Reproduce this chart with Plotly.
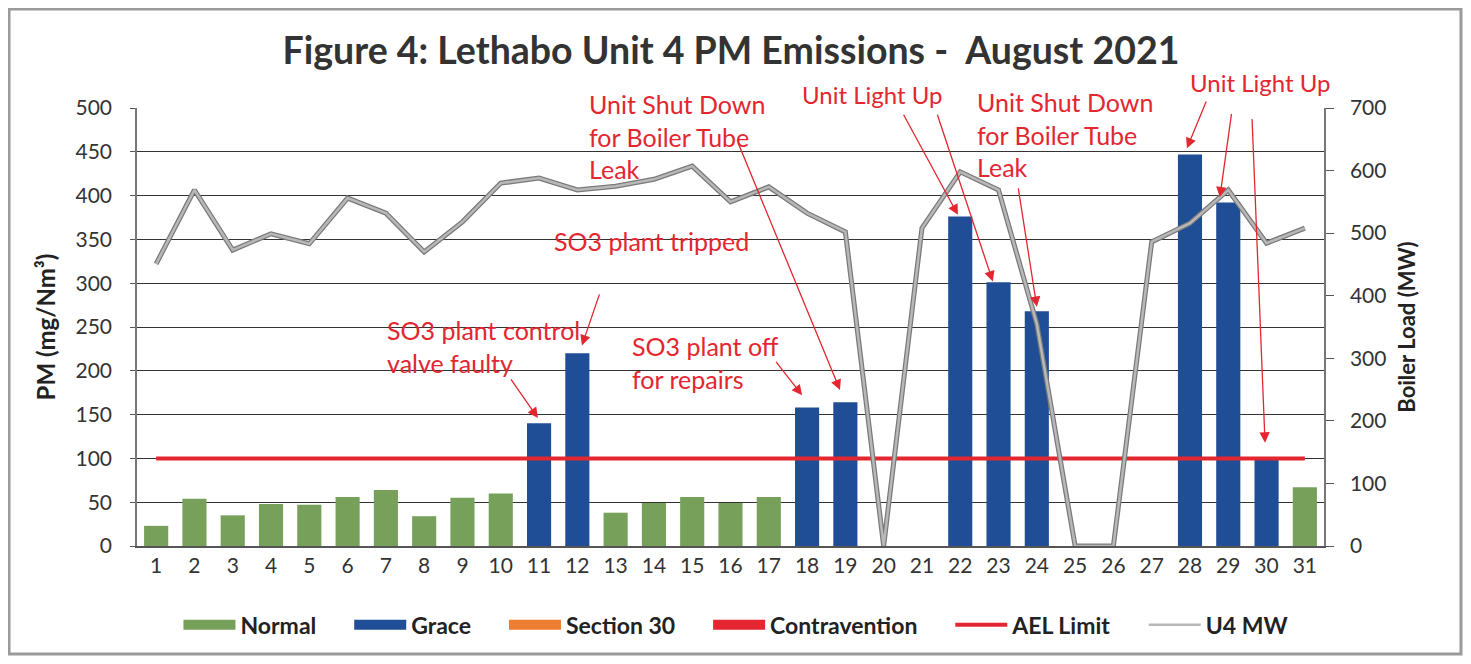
import plotly.graph_objects as go

days = list(range(1, 32))
pm_values = [23, 54, 35, 48, 47, 56, 64, 34, 55, 60, 140, 220, 38, 49, 56, 49, 56,
             158, 164, 0, 0, 376, 301, 268, 0, 0, 0, 447, 392, 100, 67]
status = ["N"] * 10 + ["G", "G"] + ["N"] * 5 + ["G", "G", "-", "-", "G", "G", "G", "-", "-", "-", "G", "G", "G", "N"]
mw_values = [451, 569, 473, 499, 483, 556, 532, 470, 518, 580, 588, 569, 575, 586, 607, 550,
             574, 532, 502, 0, 508, 598, 569, 355, 0, 0, 486, 516, 569, 484, 508]
ael_limit = [100] * 31

normal = [v if s == "N" else None for v, s in zip(pm_values, status)]
grace = [v if s == "G" else None for v, s in zip(pm_values, status)]

title_text = "Figure 4: Lethabo Unit 4 PM Emissions -  August 2021"

# annotation texts in data coords: (text, x, y)
notes = [
    ("SO3 plant control<br>valve faulty", 6.98, 228),
    ("SO3 plant tripped", 11.34, 348),
    ("SO3 plant off<br>for repairs", 13.38, 210),
    ("Unit Shut Down<br>for Boiler Tube<br>Leak", 12.25, 468),
    ("Unit Shut Down<br>for Boiler Tube<br>Leak", 22.38, 470),
]
# annotation texts above the plot, paper coords
notes_top = [
    ("Unit Light Up", 0.5586, 1.0297),
    ("Unit Light Up", 0.8854, 1.0571),
]
# arrows: (tail x, tail y, head x, head y)
arrows = [
    (10.24, 192, 10.97, 146),
    (12.59, 289, 12.12, 229),
    (17.16, 212, 17.87, 172),
    (16.2, 460, 18.86, 178),
    (20.5, 494, 21.94, 378),
    (21.39, 494, 22.85, 302),
    (23.51, 410, 24.0, 273),
    (28.44, 509, 27.92, 454),
    (29.09, 495, 28.78, 398),
    (29.62, 489, 29.96, 118),
]

FONT = "Lato"
GREEN = "#77A05A"
BLUE = "#1F4E96"
ORANGE = "#ED7D31"
RED = "#E3262F"
ANN_SIZE = 25
PAD = "\u00a0" * 5  # spacing between legend entries

fig = go.Figure()
fig.add_trace(go.Bar(x=days, y=normal, name="Normal", showlegend=False,
                     marker=dict(color=GREEN, line=dict(width=0))))
fig.add_trace(go.Bar(x=days, y=grace, name="Grace", showlegend=False,
                     marker=dict(color=BLUE, line=dict(width=0))))
# legend entries drawn as wide swatches
for nm, col in [("Normal", GREEN), ("Grace", BLUE), ("Section 30", ORANGE), ("Contravention", RED)]:
    fig.add_trace(go.Scatter(x=[None], y=[None], name=nm + PAD, mode="lines",
                             line=dict(color=col, width=14)))
fig.add_trace(go.Scatter(x=days, y=ael_limit, name="AEL Limit" + PAD, mode="lines",
                         line=dict(color=RED, width=4)))
fig.add_trace(go.Scatter(x=days, y=mw_values, name="U4 MW", mode="lines", yaxis="y2",
                         line=dict(color="#7A7A7A", width=5), showlegend=False, hoverinfo="skip"))
fig.add_trace(go.Scatter(x=days, y=mw_values, name="U4 MW", mode="lines", yaxis="y2",
                         line=dict(color="#B8B8B8", width=2.5)))

for text, x, y in notes:
    fig.add_annotation(x=x, y=y, xref="x", yref="y", text=text, showarrow=False,
                       xanchor="left", yanchor="middle", align="left",
                       font=dict(family=FONT, size=ANN_SIZE, color=RED))
for text, x, y in notes_top:
    fig.add_annotation(x=x, y=y, xref="paper", yref="paper", text=text, showarrow=False,
                       xanchor="left", yanchor="middle", align="left",
                       font=dict(family=FONT, size=24, color=RED))
for tx, ty, hx, hy in arrows:
    fig.add_annotation(x=hx, y=hy, ax=tx, ay=ty, xref="x", yref="y", axref="x", ayref="y",
                       text="", showarrow=True, arrowhead=2, arrowsize=1.6, arrowwidth=1.3,
                       arrowcolor=RED)

# outer frame
fig.add_shape(type="rect", xref="paper", yref="paper", x0=-0.1078, x1=1.1154, y0=-0.2466, y1=1.226,
              line=dict(color="#9A9A9A", width=3), layer="below")

W, H = 1455, 648
fig.update_layout(
    width=W, height=H,
    margin=dict(l=129, r=139, t=100, b=110, autoexpand=False),
    paper_bgcolor="white", plot_bgcolor="white",
    barmode="relative", bargap=0.37,
    title=dict(text="<b>" + title_text + "</b>", x=723 / W, xanchor="center",
               y=1 - 43 / H, yanchor="middle",
               font=dict(family=FONT, size=37.5, color="#333333")),
    font=dict(family=FONT, color="#333333"),
    xaxis=dict(range=[0.5, 31.5], tickmode="array", tickvals=days, ticktext=[str(d) for d in days],
               showgrid=False, showline=True, linecolor="#555555", linewidth=1.5,
               tickfont=dict(family=FONT, size=21, color="#333333"), ticks="", zeroline=False),
    yaxis=dict(range=[0, 500], tickmode="linear", dtick=50, showgrid=True, gridcolor="#333333",
               gridwidth=1.4, showline=True, linecolor="#777777", linewidth=1.5,
               ticks="outside", ticklen=5, tickcolor="#555555", ticklabelstandoff=14,
               tickfont=dict(family=FONT, size=21, color="#333333"), zeroline=False,
               title=dict(text="<b>PM (mg/Nm³)</b>", font=dict(family=FONT, size=24, color="#222222"),
                          standoff=13)),
    yaxis2=dict(range=[0, 700], tickmode="linear", dtick=100, overlaying="y", side="right",
                showgrid=False, showline=True, linecolor="#777777", linewidth=1.5,
                ticks="outside", ticklen=8, tickcolor="#555555", ticklabelstandoff=12,
                tickfont=dict(family=FONT, size=21, color="#333333"), zeroline=False,
                title=dict(text="<b>Boiler Load (MW)</b>", font=dict(family=FONT, size=22, color="#222222"),
                           standoff=14)),
    legend=dict(orientation="h", x=0.5046, xanchor="center", y=-0.18, yanchor="middle",
                font=dict(family=FONT, size=23, color="#222222", weight="bold"),
                itemwidth=52, traceorder="normal", bgcolor="rgba(0,0,0,0)"),
    showlegend=True,
)

fig.write_html("out.html")
